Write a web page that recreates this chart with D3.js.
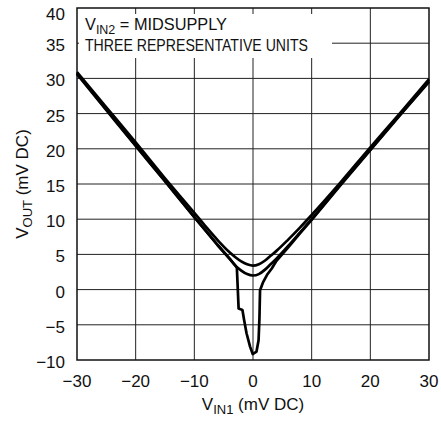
<!DOCTYPE html>
<html>
<head>
<meta charset="utf-8">
<script src="https://cdn.jsdelivr.net/npm/d3@7"></script>
<style>
  body { margin: 0; background: #fff; }
  text { font-family: "Liberation Sans Narrow", "Arial Narrow", "Liberation Sans", sans-serif; fill: #111; }
</style>
</head>
<body>
<div id="chart"></div>
<script>
// tick values
var xTicks = [-30, -20, -10, 0, 10, 20, 30];
var yTicks = [-10, -5, 0, 5, 10, 15, 20, 25, 30, 35, 40];

// three representative units, [VIN1, VOUT] in mV
var unitA = [[-30, 30.9], [-25, 25.9], [-20, 20.9], [-15, 15.8], [-10, 10.9], [-8, 8.9], [-6, 7.0],
  [-4, 5.3], [-3, 4.6], [-2, 4.0], [-1, 3.6], [0, 3.4], [1, 3.6], [2, 4.1], [3, 4.8], [4, 5.5],
  [6, 7.1], [8, 8.8], [10, 10.6], [15, 15.3], [20, 20.2], [25, 25.0], [30, 29.9]];
var unitB = [[-30, 30.6], [-25, 25.5], [-20, 20.4], [-15, 15.4], [-10, 10.3], [-8, 8.3], [-6, 6.3],
  [-4, 4.4], [-3, 3.4], [-2, 2.7], [-1, 2.2], [0, 2.0], [1, 2.2], [2, 2.8], [3, 3.6], [4, 4.4],
  [6, 6.2], [8, 8.1], [10, 10.0], [15, 15.0], [20, 19.9], [25, 24.8], [30, 29.6]];
var unitC = [[-30, 30.7], [-25, 25.6], [-20, 20.5], [-15, 15.4], [-10, 10.3], [-8, 8.3], [-6, 6.3],
  [-4, 4.4], [-3, 3.4], [-2.75, 3.1], [-2.45, -2.7], [-1.8, -2.9], [-1.5, -4.4], [-1.1, -6.2],
  [-0.5, -8.1], [-0.05, -9.15], [0.6, -8.8], [0.95, -7.2], [1.1, -4.0], [1.2, -0.1], [1.75, 1.1],
  [2.4, 2.1], [3.2, 3.0], [4, 4.1], [6, 6.0], [8, 8.0], [10, 9.9], [15, 14.9], [20, 19.8],
  [25, 24.7], [30, 29.5]];

var svgWidth = 441;
var svgHeight = 423;

var svg = d3.select("#chart")
  .append("svg")
  .attr("width", svgWidth)
  .attr("height", svgHeight);

var xScale = d3.scaleLinear().domain([-30, 30]).range([77, 429]);
var yScale = d3.scaleLinear().domain([-10, 40]).range([360, 8]);

// grid
svg.append("g").selectAll("line")
  .data(xTicks.slice(1, -1))
  .enter().append("line")
  .attr("x1", d => xScale(d)).attr("x2", d => xScale(d))
  .attr("y1", yScale(40)).attr("y2", yScale(-10))
  .attr("stroke", "#222").attr("stroke-width", 1);

svg.append("g").selectAll("line")
  .data(yTicks.slice(1, -1))
  .enter().append("line")
  .attr("x1", xScale(-30)).attr("x2", xScale(30))
  .attr("y1", d => yScale(d)).attr("y2", d => yScale(d))
  .attr("stroke", "#222").attr("stroke-width", 1);

// white box behind the note
svg.append("rect")
  .attr("x", 79).attr("y", 14)
  .attr("width", 253).attr("height", 44)
  .attr("fill", "#fff");

// frame
svg.append("rect")
  .attr("x", xScale(-30)).attr("y", yScale(40))
  .attr("width", xScale(30) - xScale(-30))
  .attr("height", yScale(-10) - yScale(40))
  .attr("fill", "none").attr("stroke", "#111").attr("stroke-width", 1.5);

// curves
var smooth = d3.line().x(d => xScale(d[0])).y(d => yScale(d[1])).curve(d3.curveMonotoneX);
var sharp = d3.line().x(d => xScale(d[0])).y(d => yScale(d[1])).curve(d3.curveLinear);

[unitA, unitB].forEach(function(u) {
  svg.append("path").attr("d", smooth(u))
    .attr("fill", "none").attr("stroke", "#000").attr("stroke-width", 2.7)
    .attr("stroke-linejoin", "round");
});
svg.append("path").attr("d", sharp(unitC))
  .attr("fill", "none").attr("stroke", "#000").attr("stroke-width", 2.7)
  .attr("stroke-linejoin", "round");

// tick labels
svg.append("g").selectAll("text")
  .data(xTicks)
  .enter().append("text")
  .attr("x", d => xScale(d))
  .attr("y", 387)
  .attr("text-anchor", "middle")
  .attr("font-size", 17)
  .text(d => d < 0 ? "\u2212" + Math.abs(d) : d);

svg.append("g").selectAll("text")
  .data(yTicks)
  .enter().append("text")
  .attr("x", 65)
  .attr("y", d => Math.max(yScale(d) + 8, 20))
  .attr("text-anchor", "end")
  .attr("font-size", 17)
  .text(d => d < 0 ? "\u2212" + Math.abs(d) : d);

// axis titles
var xt = svg.append("text")
  .attr("x", xScale(0)).attr("y", 410)
  .attr("text-anchor", "middle")
  .attr("font-size", 17);
xt.append("tspan").text("V");
xt.append("tspan").attr("font-size", 13).attr("dy", 4).text("IN1");
xt.append("tspan").attr("dy", -4).text(" (mV DC)");

var yt = svg.append("text")
  .attr("transform", "translate(28," + yScale(15) + ") rotate(-90)")
  .attr("text-anchor", "middle")
  .attr("font-size", 17);
yt.append("tspan").text("V");
yt.append("tspan").attr("font-size", 13).attr("dy", 4).text("OUT");
yt.append("tspan").attr("dy", -4).text(" (mV DC)");

// note
var n1 = svg.append("text").attr("x", 85).attr("y", 30).attr("font-size", 17)
  .attr("textLength", 142).attr("lengthAdjust", "spacingAndGlyphs");
n1.append("tspan").text("V");
n1.append("tspan").attr("font-size", 13).attr("dy", 4).text("IN2");
n1.append("tspan").attr("dy", -4).text(" = MIDSUPPLY");

svg.append("text").attr("x", 85).attr("y", 51).attr("font-size", 17)
  .attr("textLength", 223).attr("lengthAdjust", "spacingAndGlyphs")
  .text("THREE REPRESENTATIVE UNITS");
</script>
</body>
</html>
